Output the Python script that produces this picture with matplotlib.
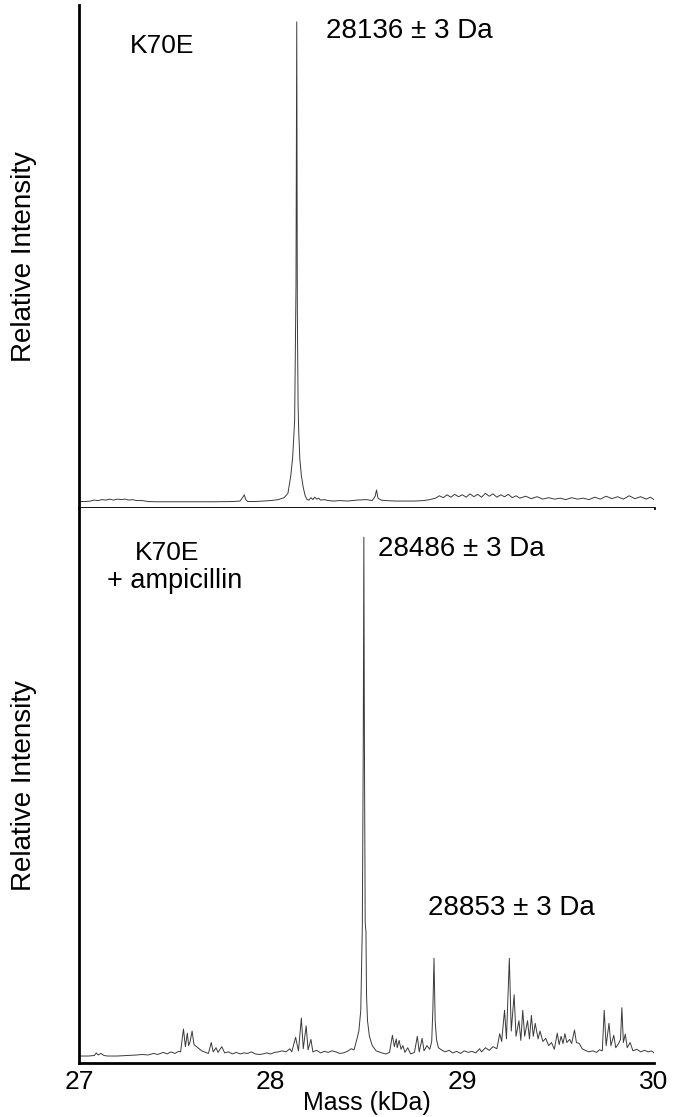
import matplotlib
matplotlib.use("Agg")
import matplotlib.pyplot as plt

plt.rcParams['font.family'] = ['Liberation Sans', 'DejaVu Sans']

# Спектр K70E (масса, кДа / относительная интенсивность, %)
mass_top = [27.00, 27.03, 27.06, 27.08, 27.10, 27.12, 27.14, 27.16, 27.18, 27.20,
            27.22, 27.24, 27.26, 27.28, 27.30, 27.33, 27.36, 27.40, 27.50, 27.60,
            27.70, 27.80, 27.84, 27.855, 27.862, 27.87, 27.88, 27.92, 27.96, 28.00,
            28.04, 28.07, 28.09, 28.105, 28.115, 28.125, 28.132, 28.136, 28.139, 28.141,
            28.143, 28.146, 28.152, 28.16, 28.17, 28.18, 28.19, 28.20, 28.21, 28.22,
            28.23, 28.24, 28.25, 28.26, 28.28, 28.30, 28.33, 28.36, 28.40, 28.45,
            28.50, 28.53, 28.545, 28.552, 28.56, 28.575, 28.60, 28.65, 28.70, 28.75,
            28.80, 28.83, 28.86, 28.88, 28.90, 28.92, 28.94, 28.96, 28.98, 29.00,
            29.02, 29.04, 29.06, 29.08, 29.10, 29.12, 29.14, 29.16, 29.18, 29.20,
            29.22, 29.24, 29.26, 29.28, 29.30, 29.33, 29.36, 29.39, 29.42, 29.45,
            29.48, 29.51, 29.54, 29.57, 29.60, 29.63, 29.66, 29.69, 29.72, 29.75,
            29.78, 29.81, 29.84, 29.87, 29.90, 29.93, 29.96, 29.98, 30.00]
int_top = [0.1, 0.1, 0.2, 0.4, 0.3, 0.5, 0.4, 0.6, 0.4, 0.6,
           0.5, 0.6, 0.4, 0.5, 0.3, 0.3, 0.1, 0.05, 0.05, 0.05,
           0.05, 0.1, 0.2, 1.0, 1.5, 0.5, 0.1, 0.1, 0.2, 0.3,
           0.5, 0.9, 1.8, 5.5, 9.5, 17, 45, 100, 40, 30,
           20, 15, 9, 5.5, 3.0, 1.3, 0.5, 0.4, 0.9, 0.5,
           1.0, 0.6, 0.8, 0.4, 0.5, 0.3, 0.2, 0.3, 0.2, 0.4,
           0.5, 0.3, 1.2, 2.5, 0.8, 0.4, 0.3, 0.2, 0.2, 0.2,
           0.3, 0.5, 0.8, 1.3, 0.9, 1.5, 1.0, 1.6, 1.1, 1.5,
           1.0, 1.7, 1.1, 1.6, 1.0, 1.8, 1.2, 1.7, 1.0, 1.5,
           1.1, 1.6, 0.9, 1.3, 0.8, 1.2, 0.7, 1.1, 0.6, 0.9,
           0.6, 0.8, 0.5, 0.9, 0.6, 0.8, 0.5, 1.0, 0.6, 1.2,
           0.7, 1.1, 0.6, 1.3, 0.7, 1.1, 0.6, 1.0, 0.5]

# Спектр K70E + ампициллин
mass_bot = [27.00, 27.05, 27.08, 27.09, 27.10, 27.115, 27.13, 27.15, 27.20, 27.25,
            27.30, 27.33, 27.36, 27.39, 27.41, 27.44, 27.46, 27.48, 27.50, 27.52,
            27.53, 27.545, 27.555, 27.565, 27.572, 27.58, 27.59, 27.60, 27.62, 27.64,
            27.66, 27.675, 27.69, 27.70, 27.715, 27.725, 27.745, 27.76, 27.78, 27.80,
            27.82, 27.84, 27.86, 27.88, 27.90, 27.92, 27.94, 27.96, 27.98, 28.00,
            28.02, 28.04, 28.06, 28.08, 28.10, 28.11, 28.13, 28.145, 28.16, 28.17,
            28.185, 28.195, 28.21, 28.22, 28.24, 28.26, 28.28, 28.30, 28.32, 28.34,
            28.36, 28.38, 28.40, 28.42, 28.435, 28.45, 28.46, 28.47, 28.478, 28.483,
            28.486, 28.489, 28.493, 28.497, 28.50, 28.505, 28.515, 28.53, 28.55, 28.58,
            28.60, 28.62, 28.635, 28.645, 28.655, 28.66, 28.67, 28.68, 28.69, 28.70,
            28.715, 28.73, 28.75, 28.765, 28.775, 28.79, 28.80, 28.815, 28.83, 28.84,
            28.846, 28.852, 28.858, 28.865, 28.875, 28.89, 28.91, 28.93, 28.95, 28.97,
            28.99, 29.01, 29.03, 29.05, 29.07, 29.09, 29.10, 29.12, 29.14, 29.16,
            29.18, 29.195, 29.205, 29.22, 29.23, 29.245, 29.255, 29.27, 29.28, 29.295,
            29.305, 29.315, 29.325, 29.34, 29.35, 29.36, 29.37, 29.38, 29.395, 29.405,
            29.42, 29.435, 29.45, 29.465, 29.48, 29.495, 29.505, 29.515, 29.525, 29.535,
            29.545, 29.56, 29.57, 29.585, 29.595, 29.61, 29.625, 29.64, 29.66, 29.68,
            29.70, 29.715, 29.73, 29.74, 29.75, 29.765, 29.775, 29.79, 29.80, 29.815,
            29.825, 29.832, 29.84, 29.85, 29.86, 29.875, 29.89, 29.91, 29.93, 29.95,
            29.97, 29.985, 30.00]
int_bot = [0.2, 0.2, 0.3, 0.8, 0.4, 0.7, 0.3, 0.2, 0.2, 0.3,
           0.4, 0.5, 0.4, 0.7, 0.5, 0.9, 0.6, 1.0, 0.7, 1.1,
           1.0, 5.4, 2.0, 4.6, 2.2, 3.0, 5.0, 2.4, 1.8, 1.2,
           0.9, 0.7, 2.8, 1.0, 1.8, 0.9, 2.0, 0.8, 1.0, 0.6,
           0.9, 0.6, 0.8, 0.7, 1.0, 0.6, 0.5, 0.6, 0.8, 0.6,
           0.9, 1.0, 1.2, 1.0, 1.6, 1.0, 3.8, 1.2, 7.5, 1.6,
           6.0, 1.4, 3.4, 1.0, 1.3, 0.8, 1.1, 0.9, 1.2, 1.0,
           0.7, 0.8, 1.1, 1.6, 1.4, 3.5, 5.0, 9, 25, 60,
           100, 60, 26, 24, 12, 7, 4, 2.2, 1.2, 0.8,
           0.6, 0.9, 4.2, 2.0, 3.5, 1.8, 3.2, 1.5, 2.2, 0.9,
           1.8, 0.6, 0.9, 4.0, 1.0, 3.6, 1.2, 2.2, 1.5, 3.0,
           9, 19, 7, 3.4, 1.8, 1.4, 1.0, 1.3, 0.8, 1.1,
           0.7, 1.2, 0.9, 1.1, 0.8, 1.6, 1.0, 1.8, 1.3, 2.0,
           1.6, 4.5, 3.0, 9.0, 3.5, 19, 5.0, 12, 4.0, 7.0,
           3.2, 9.0, 4.0, 7.0, 3.5, 8.0, 4.0, 6.5, 3.5, 5.0,
           3.0, 3.6, 2.2, 2.8, 1.5, 4.6, 2.4, 4.0, 2.6, 4.5,
           2.8, 3.4, 2.6, 5.2, 2.8, 2.6, 1.6, 1.3, 1.0, 1.2,
           0.9, 1.4, 1.2, 9.0, 2.2, 6.5, 2.2, 4.2, 1.8, 2.6,
           3.4, 9.5, 2.8, 4.4, 1.8, 2.8, 1.2, 1.5, 1.0, 1.3,
           1.0, 1.2, 0.8]

x_ticks = [27, 28, 29, 30]

fig = plt.figure(figsize=(6.77, 11.17), dpi=100)
ax1 = fig.add_axes([0.1167, 0.5452, 0.8494, 0.4503])
ax2 = fig.add_axes([0.1167, 0.0483, 0.8494, 0.4969])

line_color = '#3a3a3a'
ax1.plot(mass_top, int_top, color=line_color, lw=0.7)
ax2.plot(mass_bot, int_bot, color=line_color, lw=0.7)

ax1.set_ylim(-1.25, 103.5)
ax2.set_ylim(-1.15, 105.6)

for ax in (ax1, ax2):
    ax.set_xlim(27, 30)
    ax.spines['top'].set_visible(False)
    ax.spines['right'].set_visible(False)
    ax.spines['left'].set_linewidth(2)
    ax.spines['bottom'].set_linewidth(2)
    ax.set_yticks([])
    ax.set_ylabel("Relative Intensity", fontsize=20, labelpad=30)

ax1.set_xticks([])
ax2.set_xticks(x_ticks)
ax2.set_xticklabels([str(t) for t in x_ticks], fontsize=19)
ax2.tick_params(axis='x', length=0, pad=5)
ax2.set_xlabel("Mass (kDa)", fontsize=18, labelpad=-2)

# Подписи
ax1.text(27.265, 95, "K70E", fontsize=19, ha='left', va='center')
ax1.text(28.29, 98, "28136 ± 3 Da", fontsize=20, ha='left', va='center')
ax2.text(27.46, 97, "K70E", fontsize=19, ha='center', va='center')
ax2.text(27.50, 91.5, "+ ampicillin", fontsize=19.5, ha='center', va='center')
ax2.text(28.56, 97.7, "28486 ± 3 Da", fontsize=20, ha='left', va='center')
ax2.text(28.82, 28.7, "28853 ± 3 Da", fontsize=20, ha='left', va='center')

fig.savefig("out.png", dpi=100)
